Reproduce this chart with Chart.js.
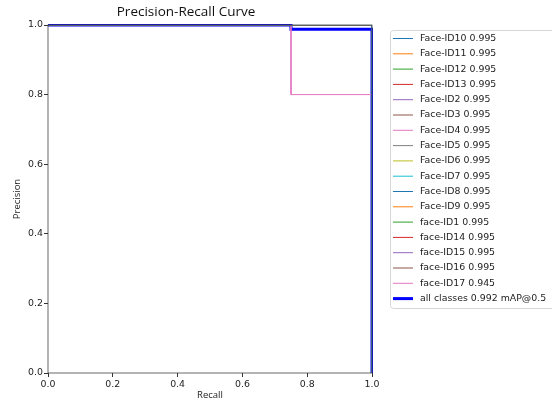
<!DOCTYPE html>
<html>
<head>
<meta charset="utf-8">
<script src="https://cdn.jsdelivr.net/npm/chart.js@4"></script>
<style>
  body { margin: 0; background: #fff; }
  #wrap { width: 552px; height: 399px; }
</style>
</head>
<body>
<div id="wrap"><canvas id="prChart" width="552" height="399"></canvas></div>
<script>
// 各类别名称及 AP
const classNames = ['Face-ID10', 'Face-ID11', 'Face-ID12', 'Face-ID13', 'Face-ID2', 'Face-ID3', 'Face-ID4', 'Face-ID5',
    'Face-ID6', 'Face-ID7', 'Face-ID8', 'Face-ID9', 'face-ID1', 'face-ID14', 'face-ID15', 'face-ID16', 'face-ID17'];
const classAP = [0.995, 0.995, 0.995, 0.995, 0.995, 0.995, 0.995, 0.995, 0.995, 0.995, 0.995, 0.995, 0.995, 0.995, 0.995, 0.995, 0.945];

// 曲线数据（recall / precision）
const recallFull = [0, 1, 1];
const precisionFull = [1, 1, 0];
const recallID17 = [0, 0.75, 0.75, 1, 1];
const precisionID17 = [1, 1, 0.8, 0.8, 0];
const recallAll = [0, 0.75, 0.75, 1, 1];
const precisionAll = [1, 1, 0.988, 0.988, 0];
const mapAll = 0.992;

const xTicks = [0, 0.2, 0.4, 0.6, 0.8, 1.0];
const yTicks = [0, 0.2, 0.4, 0.6, 0.8, 1.0];

const palette = ['#1f77b4', '#ff7f0e', '#2ca02c', '#d62728', '#9467bd', '#8c564b', '#e377c2', '#7f7f7f', '#bcbd22', '#17becf'];

function toPoints(xs, ys) {
    return xs.map((x, i) => ({ x: x, y: ys[i] }));
}

const datasets = classNames.map((name, i) => {
    const isLast = name === 'face-ID17';
    return {
        label: name + ' ' + classAP[i].toFixed(3),
        data: isLast ? toPoints(recallID17, precisionID17) : toPoints(recallFull, precisionFull),
        borderColor: palette[i % 10],
        borderWidth: 1,
        showLine: true,
        pointRadius: 0,
        clip: 0
    };
});
datasets.push({
    label: 'all classes ' + mapAll.toFixed(3) + ' mAP@0.5',
    data: toPoints(recallAll, precisionAll),
    borderColor: '#0000ff',
    borderWidth: 3,
    showLine: true,
    pointRadius: 0,
    clip: 1
});

// 坐标框 + 右侧图例
const framePlugin = {
    id: 'frame',
    afterDatasetsDraw(chart) {
        const { ctx, chartArea: a } = chart;
        ctx.save();
        ctx.strokeStyle = '#444';
        ctx.lineWidth = 0.8;
        ctx.strokeRect(a.left, a.top, a.right - a.left, a.bottom - a.top);
        ctx.restore();
    },
    afterDraw(chart) {
        const ctx = chart.ctx;
        const left = 390, top = 30, bottom = 308, right = 558;
        ctx.save();
        ctx.fillStyle = 'rgba(255,255,255,0.8)';
        ctx.strokeStyle = '#d6d6d6';
        ctx.lineWidth = 1;
        ctx.beginPath();
        ctx.roundRect(left + 0.5, top + 0.5, right - left, bottom - top, 3);
        ctx.fill();
        ctx.stroke();
        ctx.font = "9.4px 'DejaVu Sans'";
        ctx.textBaseline = 'middle';
        chart.data.datasets.forEach((ds, i) => {
            const y = 38.5 + i * 15.3;
            ctx.strokeStyle = ds.borderColor;
            ctx.lineWidth = ds.borderWidth;
            ctx.beginPath();
            ctx.moveTo(393, y);
            ctx.lineTo(413, y);
            ctx.stroke();
            ctx.fillStyle = '#222';
            ctx.fillText(ds.label, 420, y);
        });
        ctx.restore();
    }
};

const tickFont = { family: "'DejaVu Sans'", size: 9.4 };
const labelFont = { family: "'Open Sans'", size: 9.5 };

new Chart(document.getElementById('prChart'), {
    type: 'scatter',
    data: { datasets: datasets },
    options: {
        responsive: false,
        animation: false,
        layout: { padding: { left: 0, top: 0, right: 180, bottom: 0 } },
        plugins: {
            legend: { display: false },
            tooltip: { enabled: false },
            title: {
                display: true,
                text: 'Precision-Recall Curve',
                color: '#111',
                font: { family: "'Open Sans'", size: 13.5, weight: 'normal' },
                padding: { top: 4, bottom: 4.8 }
            }
        },
        scales: {
            x: {
                type: 'linear',
                min: 0,
                max: 1,
                afterBuildTicks: s => { s.ticks = xTicks.map(v => ({ value: v })); },
                afterFit: s => { s.height = 26; },
                ticks: { font: tickFont, color: '#222', padding: 2, maxRotation: 0, callback: v => v.toFixed(1) },
                grid: { drawOnChartArea: false, drawTicks: true, tickLength: 4, tickColor: '#333' },
                border: { display: false },
                title: { display: true, text: 'Recall', font: labelFont, color: '#222', padding: { top: 0, bottom: -2 } }
            },
            y: {
                type: 'linear',
                min: 0,
                max: 1,
                afterBuildTicks: s => { s.ticks = yTicks.map(v => ({ value: v })); },
                afterFit: s => { s.width = 48; },
                ticks: { font: tickFont, color: '#222', padding: 1, callback: v => v.toFixed(1) },
                grid: { drawOnChartArea: false, drawTicks: true, tickLength: 4, tickColor: '#333' },
                border: { display: false },
                title: { display: true, text: 'Precision', font: labelFont, color: '#222', padding: { top: 12, bottom: 0 } }
            }
        }
    },
    plugins: [framePlugin]
});
</script>
</body>
</html>
